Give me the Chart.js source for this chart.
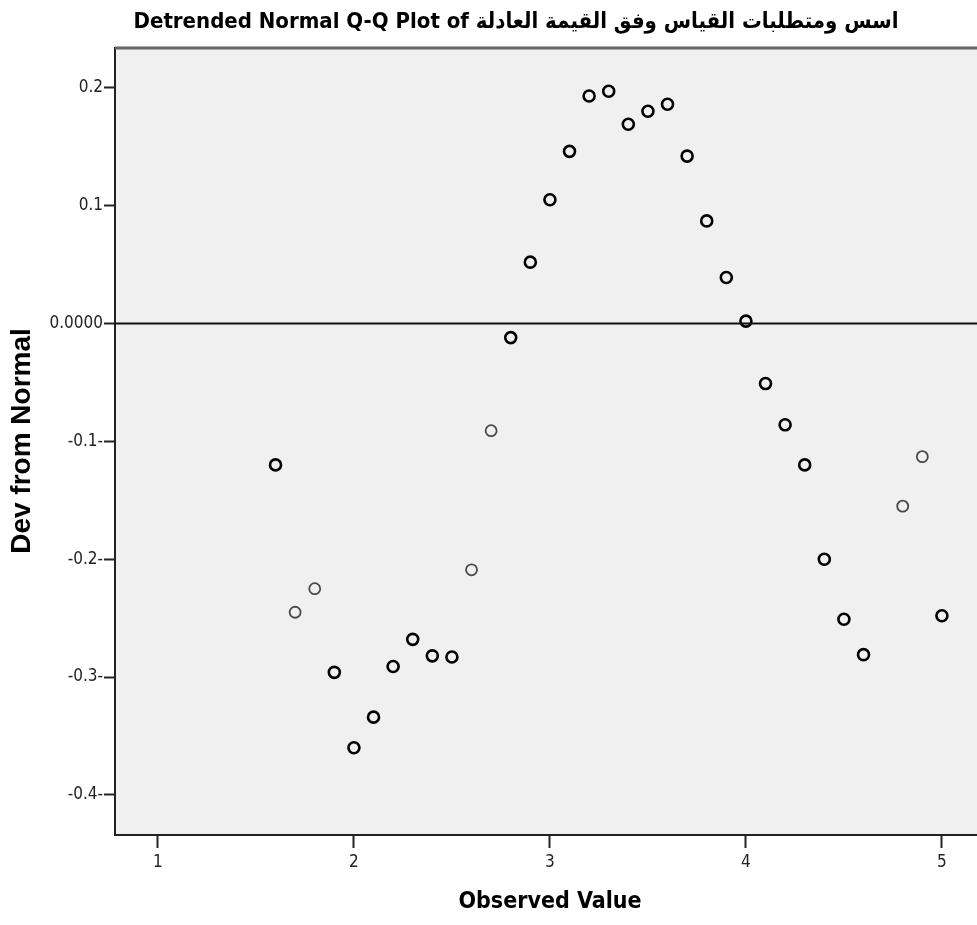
<!DOCTYPE html>
<html>
<head>
<meta charset="utf-8">
<script src="https://cdn.jsdelivr.net/npm/chart.js@4.4.1/dist/chart.umd.min.js"></script>
<style>
    body { margin: 0; background: #ffffff; }
    canvas { display: block; }
</style>
</head>
<body>
<canvas id="qqChart" width="977" height="925"></canvas>
<script>
// Detrended normal Q-Q data
const observedValues = [1.6, 1.7, 1.8, 1.9, 2.0, 2.1, 2.2, 2.3, 2.4, 2.5, 2.6, 2.7, 2.8, 2.9, 3.0, 3.1, 3.2, 3.3, 3.4, 3.5,
    3.6, 3.7, 3.8, 3.9, 4.0, 4.1, 4.2, 4.3, 4.4, 4.5, 4.6, 4.8, 4.9, 5.0];
const devFromNormal = [-0.120, -0.245, -0.225, -0.296, -0.360, -0.334, -0.291, -0.268, -0.282, -0.283, -0.209, -0.091,
    -0.012, 0.052, 0.105, 0.146, 0.193, 0.197, 0.169, 0.180, 0.186, 0.142, 0.087, 0.039, 0.002, -0.051, -0.086,
    -0.120, -0.200, -0.251, -0.281, -0.155, -0.113, -0.248];
// observations drawn with a lighter outline
const lightPoints = [1.7, 1.8, 2.6, 2.7, 4.8, 4.9];

const xTicks = [1, 2, 3, 4, 5];
const yTicks = [0.2, 0.1, 0, -0.1, -0.2, -0.3, -0.4];
const yTickLabels = ['0.2', '0.1', '0.0000', '-0.1-', '-0.2-', '-0.3-', '-0.4-'];

const chartTitle = 'Detrended Normal Q-Q Plot of اسس ومتطلبات القياس وفق القيمة العادلة';
const xTitle = 'Observed Value';
const yTitle = 'Dev from Normal';

const narrowFont = '"DejaVu Sans Condensed", "Liberation Sans", sans-serif';

// Plot background, frame, zero line and titles
const spssFrame = {
    id: 'spssFrame',
    beforeDraw(chart) {
        const { ctx, chartArea: a } = chart;
        ctx.save();
        ctx.fillStyle = '#f0f0f0';
        ctx.fillRect(a.left, a.top, a.right - a.left, a.bottom - a.top);
        ctx.restore();
    },
    afterDatasetsDraw(chart) {
        const { ctx, chartArea: a, scales } = chart;
        const y0 = scales.y.getPixelForValue(0);
        ctx.save();
        ctx.strokeStyle = '#111';
        ctx.lineWidth = 2;
        ctx.beginPath();
        ctx.moveTo(a.left, y0);
        ctx.lineTo(a.right, y0);
        ctx.stroke();
        // top edge of the frame
        ctx.strokeStyle = '#666';
        ctx.lineWidth = 3;
        ctx.beginPath();
        ctx.moveTo(a.left, a.top);
        ctx.lineTo(a.right, a.top);
        ctx.stroke();
        ctx.restore();
    },
    afterDraw(chart) {
        const { ctx, chartArea: a } = chart;
        ctx.save();
        ctx.fillStyle = '#000';
        ctx.textAlign = 'center';
        ctx.textBaseline = 'middle';
        ctx.font = 'bold 22px ' + narrowFont;
        ctx.fillText(chartTitle, (a.left + a.right) / 2 - 30, 22);
        ctx.font = 'bold 23px ' + narrowFont;
        ctx.fillText(xTitle, (a.left + a.right) / 2 + 4, 902);
        ctx.translate(22, 441);
        ctx.rotate(-Math.PI / 2);
        ctx.font = 'bold 28px "Liberation Sans", Arial, sans-serif';
        ctx.fillText(yTitle, 0, 0);
        ctx.restore();
    }
};

const points = observedValues.map((x, i) => ({ x: x, y: devFromNormal[i] }));
const isLight = observedValues.map(x => lightPoints.includes(x));

new Chart(document.getElementById('qqChart'), {
    type: 'scatter',
    data: {
        datasets: [{
            label: 'Detrended Normal Q-Q',
            data: points,
            pointRadius: 5.5,
            pointHoverRadius: 5.5,
            pointBackgroundColor: 'rgba(0,0,0,0)',
            pointBorderColor: isLight.map(l => l ? '#4a4a4a' : '#000000'),
            pointBorderWidth: isLight.map(l => l ? 1.8 : 2.6)
        }]
    },
    options: {
        responsive: false,
        devicePixelRatio: 1,
        animation: false,
        layout: { padding: { top: 48, right: 0, left: 0, bottom: 0 }, autoPadding: false },
        plugins: {
            legend: { display: false },
            title: { display: false },
            tooltip: { enabled: false }
        },
        scales: {
            x: {
                type: 'linear',
                min: 0.781,
                max: 5.179,
                afterFit(scale) { scale.height = 90; },
                afterBuildTicks(scale) { scale.ticks = xTicks.map(v => ({ value: v })); },
                ticks: {
                    color: '#222',
                    padding: 4,
                    font: { family: narrowFont, size: 17 },
                    callback: v => String(v)
                },
                grid: { drawOnChartArea: false, tickLength: 13, tickWidth: 2, tickColor: '#222' },
                border: { display: true, color: '#222', width: 2 }
            },
            y: {
                type: 'linear',
                min: -0.434,
                max: 0.2337,
                afterFit(scale) { scale.width = 115; },
                afterBuildTicks(scale) { scale.ticks = yTicks.map(v => ({ value: v })); },
                ticks: {
                    color: '#222',
                    padding: 1,
                    font: { family: narrowFont, size: 17 },
                    callback: v => yTickLabels[yTicks.findIndex(t => Math.abs(t - v) < 1e-9)]
                },
                grid: { drawOnChartArea: false, tickLength: 11, tickWidth: 2, tickColor: '#222' },
                border: { display: true, color: '#222', width: 2 }
            }
        }
    },
    plugins: [spssFrame]
});
</script>
</body>
</html>
